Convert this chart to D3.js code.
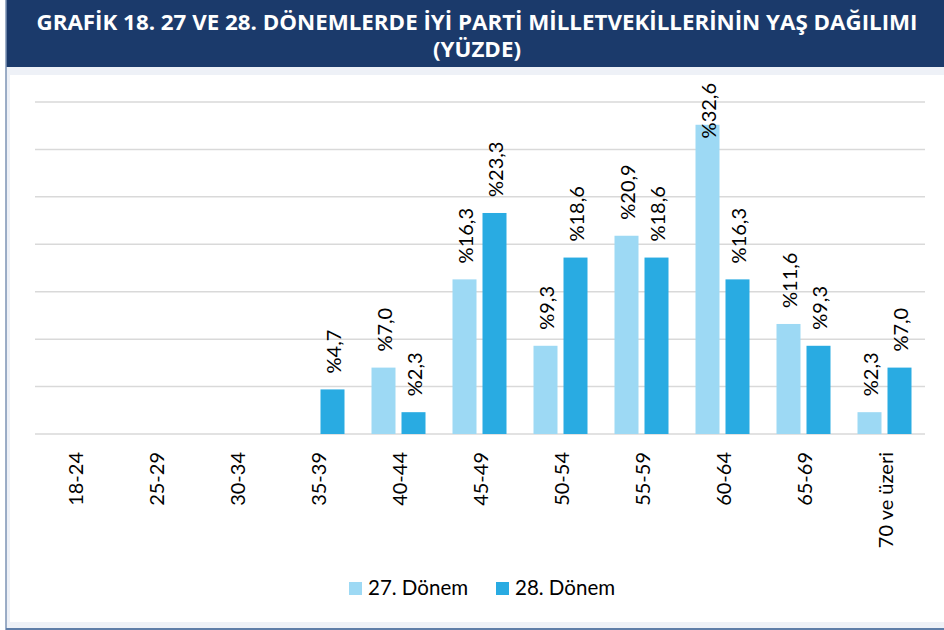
<!DOCTYPE html>
<html><head><meta charset="utf-8">
<script src="https://cdn.jsdelivr.net/npm/d3@7"></script>
<style>body{margin:0;background:#fff}svg{display:block}</style>
</head><body>
<svg id="c" width="944" height="630"></svg>
<script>
const titleLines = ["GRAFİK 18. 27 VE 28. DÖNEMLERDE İYİ PARTİ MİLLETVEKİLLERİNİN YAŞ DAĞILIMI", "(YÜZDE)"];
const categories = ["18-24","25-29","30-34","35-39","40-44","45-49","50-54","55-59","60-64","65-69","70 ve üzeri"];
const seriesNames = ["27. Dönem","28. Dönem"];
const values27 = [null,null,null,null,7.0,16.3,9.3,20.9,32.6,11.6,2.3];
const values28 = [null,null,null,4.7,2.3,23.3,18.6,18.6,16.3,9.3,7.0];
const yTicks = [0,5,10,15,20,25,30,35];
const colors = ["#9dd9f4","#29abe2"];

const svg = d3.select("#c");
// frame
svg.append("rect").attr("x",6).attr("y",67).attr("width",938).attr("height",563).attr("fill","#eef1f7");
svg.append("rect").attr("x",10).attr("y",75).attr("width",934).attr("height",547).attr("fill","#ffffff");
svg.append("rect").attr("x",6).attr("y",0).attr("width",938).attr("height",67).attr("fill","#1b3a6b");
svg.append("line").attr("x1",6).attr("x2",6).attr("y1",0).attr("y2",630).attr("stroke","#7d93b4").attr("stroke-width",1.5);
svg.append("line").attr("x1",6).attr("x2",944).attr("y1",629).attr("y2",629).attr("stroke","#5f7ea8").attr("stroke-width",2);

// title
const tl = svg.append("g");
tl.append("text").attr("x",477).attr("y",30).attr("text-anchor","middle")
  .attr("textLength",881).attr("lengthAdjust","spacingAndGlyphs")
  .style("font-family","'Open Sans'").style("font-weight",700).style("font-size","20.5px").attr("fill","#fff")
  .text(titleLines[0]);
tl.append("text").attr("x",477).attr("y",57).attr("text-anchor","middle")
  .attr("textLength",88).attr("lengthAdjust","spacingAndGlyphs")
  .style("font-family","'Open Sans'").style("font-weight",700).style("font-size","20.5px").attr("fill","#fff")
  .text(titleLines[1]);

const x0 = d3.scaleBand().domain(categories).range([34,925]).paddingInner(0).paddingOuter(0);
const x1 = d3.scaleBand().domain(seriesNames).range([13.5,67.5]).paddingInner(0.2).paddingOuter(0);
const y = d3.scaleLinear().domain([0,35]).range([434,102]);

// gridlines
svg.append("g").selectAll("line").data(yTicks).join("line")
  .attr("x1",35).attr("x2",925).attr("y1",d=>y(d)).attr("y2",d=>y(d))
  .attr("stroke","#d9d9d9").attr("stroke-width",1.5);

const data = [];
categories.forEach((c,i)=>{
  [values27,values28].forEach((arr,s)=>{
    if(arr[i]!=null) data.push({cat:c, s:seriesNames[s], si:s, v:arr[i]});
  });
});

svg.append("g").selectAll("rect").data(data).join("rect")
  .attr("x",d=>x0(d.cat)+x1(d.s)).attr("width",x1.bandwidth())
  .attr("y",d=>y(d.v)).attr("height",d=>y(0)-y(d.v))
  .attr("fill",d=>colors[d.si]);

const fmt = v => "%" + v.toFixed(1).replace(".",",");
const lab = svg.append("g").selectAll("text").data(data).join("text")
  .attr("text-anchor","start").attr("dominant-baseline","central")
  .style("font-family","Lato").style("font-size","20px").attr("fill","#000")
  .text(d=>fmt(d.v));
lab.each(function(d){
  const len = this.getComputedTextLength();
  let yEnd = y(d.v) - 16;
  if (yEnd - len < 83) yEnd = 83 + len;
  const cx = x0(d.cat)+x1(d.s)+x1.bandwidth()/2;
  d3.select(this).attr("transform",`translate(${cx},${yEnd}) rotate(-90)`);
});

// x axis labels
svg.append("g").selectAll("text").data(categories).join("text")
  .attr("text-anchor","end").attr("dominant-baseline","central")
  .attr("transform",d=>`translate(${x0(d)+x0.bandwidth()/2},452) rotate(-90)`)
  .style("font-family","Lato").style("font-size","20px").attr("fill","#000")
  .text(d=>d);

// legend
const lg = svg.append("g");
const lx = [349,496];
seriesNames.forEach((n,i)=>{
  lg.append("rect").attr("x",lx[i]).attr("y",582).attr("width",13).attr("height",13).attr("fill",colors[i]);
  lg.append("text").attr("x",lx[i]+19).attr("y",595)
    .style("font-family","Lato").style("font-size","20.5px").attr("fill","#000").text(n);
});
</script>
</body></html>
